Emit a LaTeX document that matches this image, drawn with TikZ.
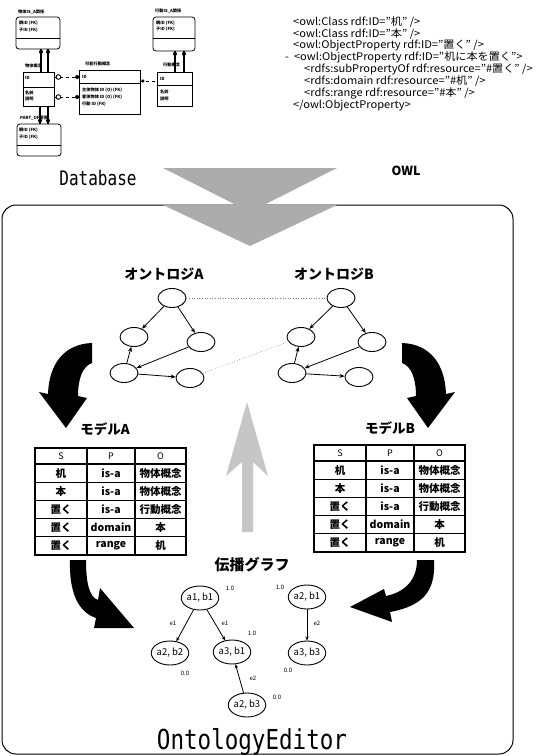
\documentclass[tikz,border=0pt]{standalone}
\usepackage{fontspec}
\setmainfont{Noto Sans CJK JP}
\newfontfamily\monofont{DejaVu Sans Mono}
\usetikzlibrary{arrows.meta,shapes.geometric,calc}

\newcommand\spotable[2]{%
\begin{scope}[shift={#2}]
 \foreach \yy in {16,34.2,52.4,70.6,88.8} \draw[line width=1.3pt] (0,\yy) -- (151,\yy);
 \foreach \xx in {52,100} \draw[line width=1.3pt] (\xx,0) -- (\xx,107);
 \draw[line width=2.2pt] (0,0) rectangle (151,107);
 \node[thd] (#1s) at (26,8) {S};
 \node[thd] (#1p) at (76,8) {P};
 \node[thd] (#1o) at (125.5,8) {O};
 \node[tcell] (#1a1) at (26,25.1) {机};
 \node[tcell] (#1b1) at (76,25.1) {is-a};
 \node[tcell] (#1c1) at (125.5,25.1) {物体概念};
 \node[tcell] (#1a2) at (26,43.3) {本};
 \node[tcell] (#1b2) at (76,43.3) {is-a};
 \node[tcell] (#1c2) at (125.5,43.3) {物体概念};
 \node[tcell] (#1a3) at (26,61.5) {置く};
 \node[tcell] (#1b3) at (76,61.5) {is-a};
 \node[tcell] (#1c3) at (125.5,61.5) {行動概念};
 \node[tcell] (#1a4) at (26,79.7) {置く};
 \node[tcell] (#1b4) at (76,79.7) {domain};
 \node[tcell] (#1c4) at (125.5,79.7) {本};
 \node[tcell] (#1a5) at (26,97.9) {置く};
 \node[tcell] (#1b5) at (76,97.9) {range};
 \node[tcell] (#1c5) at (125.5,97.9) {机};
\end{scope}}

\begin{document}
\begin{tikzpicture}[x=1pt,y=-1pt,
  dbrel/.style={draw,line width=0.8pt,rounded corners=3pt,inner sep=0pt},
  dbent/.style={draw,line width=0.8pt,inner sep=0pt},
  dbtxt/.style={font=\fontsize{4.2}{4.2}\selectfont\bfseries,inner sep=0pt,anchor=west},
  rel/.style={line width=1.3pt},
  owltxt/.style={font=\fontsize{10.5}{10.5}\selectfont,inner sep=0pt,anchor=west},
  onode/.style={draw,ellipse,line width=0.9pt,minimum width=28pt,minimum height=19pt,inner sep=0pt},
  oedge/.style={-{Stealth[length=5pt,width=4pt]},line width=0.8pt},
  dotline/.style={dotted,line width=0.6pt,gray},
  gnode/.style={draw,ellipse,line width=0.9pt,minimum width=36pt,minimum height=24pt,inner sep=0pt,font=\fontsize{9.5}{9.5}\selectfont},
  gedge/.style={-{Stealth[length=4pt,width=3.5pt]},line width=0.8pt},
  glab/.style={font=\fontsize{6}{6}\selectfont,inner sep=0pt},
  title/.style={font=\fontsize{14}{14}\selectfont\bfseries,inner sep=0pt},
  thd/.style={font=\fontsize{9}{9}\selectfont,inner sep=0pt},
  tcell/.style={font=\fontsize{10.5}{10.5}\selectfont\bfseries,inner sep=0pt},
]
\useasboundingbox (0,0) rectangle (549,756);

% ---------------- Database diagram ----------------
\node[dbrel,minimum width=44pt,minimum height=32pt] (b1) at (38,33) {};
\node[dbent,minimum width=31pt,minimum height=34pt] (b2) at (38.5,89) {};
\node[dbrel,minimum width=44pt,minimum height=32pt] (b3) at (39,140) {};
\node[dbent,minimum width=61pt,minimum height=44pt] (b4) at (109.5,92) {};
\node[dbent,minimum width=35pt,minimum height=34pt] (b5) at (174.5,89) {};
\node[dbrel,minimum width=42pt,minimum height=34pt] (b6) at (174,34) {};
\draw[line width=0.8pt] ($(b1.west)+(0,5)$) -- ($(b1.east)+(0,5)$);
\draw[line width=0.8pt] ($(b2.west)+(0,-2)$) -- ($(b2.east)+(0,-2)$);
\draw[line width=0.8pt] ($(b3.west)+(0,5)$) -- ($(b3.east)+(0,5)$);
\draw[line width=0.8pt] ($(b4.west)+(0,-9)$) -- ($(b4.east)+(0,-9)$);
\draw[line width=0.8pt] ($(b5.west)+(0,-4)$) -- ($(b5.east)+(0,-4)$);
\draw[line width=0.8pt] ($(b6.west)+(0,4)$) -- ($(b6.east)+(0,4)$);

\node[dbtxt] (t1) at (18,12) {物体IS\_A関係};
\node[dbtxt] (t1a) at (19,23) {親ID (FK)};
\node[dbtxt] (t1b) at (19,30) {子ID (FK)};
\node[dbtxt] (t2) at (25,66) {物体概念};
\node[dbtxt] (t2a) at (25,78) {ID};
\node[dbtxt] (t2b) at (25,93) {名前};
\node[dbtxt] (t2c) at (25,99) {説明};
\node[dbtxt] (t3) at (20,118) {PART\_OF関係};
\node[dbtxt] (t3a) at (19,130) {親ID (FK)};
\node[dbtxt] (t3b) at (19,137) {子ID (FK)};
\node[dbtxt] (t4) at (85,64) {可能行動概念};
\node[dbtxt] (t4a) at (82,77) {ID};
\node[dbtxt] (t4b) at (82,90) {主体物体 ID (O) (FK)};
\node[dbtxt] (t4c) at (82,97) {客体物体 ID (O) (FK)};
\node[dbtxt] (t4d) at (82,104) {行動 ID (FK)};
\node[dbtxt] (t5) at (163,65) {行動概念};
\node[dbtxt] (t5a) at (160,79) {ID};
\node[dbtxt] (t5b) at (160,92) {名前};
\node[dbtxt] (t5c) at (160,99) {説明};
\node[dbtxt] (t6) at (155,11) {行動IS\_A関係};
\node[dbtxt] (t6a) at (156,23) {親ID (FK)};
\node[dbtxt] (t6b) at (156,29) {子ID (FK)};

\draw[rel] ($(b1.south)+(3,0)$) -- ($(b2.north)+(2.5,0)$);
\draw[rel] ($(b1.south)+(10,0)$) -- ($(b2.north)+(9.5,0)$);
\fill ($(b1.south)+(3,2.5)$) circle[radius=2pt];
\fill ($(b1.south)+(10,2.5)$) circle[radius=2pt];
\draw[rel] ($(b2.south)+(1.5,0)$) -- ($(b3.north)+(1,0)$);
\draw[rel] ($(b2.south)+(9.5,0)$) -- ($(b3.north)+(9,0)$);
\fill ($(b3.north)+(1,-3)$) circle[radius=2pt];
\fill ($(b3.north)+(9,-3)$) circle[radius=2pt];
\draw[rel] ($(b6.south)+(1,0)$) -- ($(b5.north)+(0.5,0)$);
\draw[rel] ($(b6.south)+(10,0)$) -- ($(b5.north)+(9.5,0)$);
\fill ($(b6.south)+(1,2.5)$) circle[radius=2pt];
\fill ($(b6.south)+(10,2.5)$) circle[radius=2pt];
\draw[dashed,line width=0.9pt] ($(b2.east)+(0,-12)$) -- ($(b4.west)+(0,-15)$);
\draw[dashed,line width=0.9pt] ($(b2.east)+(0,8)$) -- ($(b4.west)+(0,5)$);
\draw[fill=white,line width=0.9pt] ($(b2.east)+(4,-12)$) circle[radius=2.3pt];
\draw[fill=white,line width=0.9pt] ($(b2.east)+(4,8)$) circle[radius=2.3pt];
\fill ($(b4.west)+(-1.5,-15)$) circle[radius=2pt];
\fill ($(b4.west)+(-1.5,5)$) circle[radius=2pt];
\draw[dashed,line width=0.9pt] ($(b4.east)+(0,-11)$) -- ($(b5.west)+(0,-8)$);
\fill ($(b4.east)+(2.5,-11)$) circle[radius=1.8pt];

% ---------------- OWL text ----------------
\node[owltxt] (w1) at (293,22) {\scalebox{1.06}[1]{<owl:Class rdf:ID="机" />}};
\node[owltxt] (w2) at (293,33.9) {\scalebox{1.06}[1]{<owl:Class rdf:ID="本" />}};
\node[owltxt] (w3) at (293,45.8) {\scalebox{1.06}[1]{<owl:ObjectProperty rdf:ID="置く" />}};
\node[owltxt] (w4) at (285,57.7) {\scalebox{1.06}[1]{-\ \ <owl:ObjectProperty rdf:ID="机に本を置く">}};
\node[owltxt] (w5) at (304,69.6) {\scalebox{1.06}[1]{<rdfs:subPropertyOf rdf:resource="\#置く" />}};
\node[owltxt] (w6) at (304,81.5) {\scalebox{1.06}[1]{<rdfs:domain rdf:resource="\#机" />}};
\node[owltxt] (w7) at (304,93.4) {\scalebox{1.06}[1]{<rdfs:range rdf:resource="\#本" />}};
\node[owltxt] (w8) at (293,105.3) {\scalebox{1.06}[1]{</owl:ObjectProperty>}};

\node[inner sep=0pt] (dblab) at (98,178) {\monofont\fontsize{20}{20}\selectfont\scalebox{0.8}[1]{Database}};
\node[inner sep=0pt,font=\fontsize{12.5}{12.5}\selectfont\bfseries] (owllab) at (406,171) {OWL};

% ---------------- main frame and big arrow ----------------
\draw[line width=1pt,rounded corners=14pt] (2,205) rectangle (513,754);
\fill[gray!65] (163,168) -- (337,168) -- (250,212) -- cycle;
\fill[gray!65] (163,205) -- (337,205) -- (250,246) -- cycle;

% ---------------- ontologies ----------------
\node[title] (ola) at (164,274) {オントロジA};
\node[title] (olb) at (334,274) {オントロジB};
\node[onode] (na1) at (172,298) {};
\node[onode] (na2) at (134,337) {};
\node[onode] (na3) at (201,342) {};
\node[onode] (na4) at (124,373) {};
\node[onode] (na5) at (190,378) {};
\node[onode] (nb1) at (341,298) {};
\node[onode] (nb2) at (301,337) {};
\node[onode] (nb3) at (372,342) {};
\node[onode] (nb4) at (292,373) {};
\node[onode] (nb5) at (359,377) {};
\foreach \p in {a,b} {
  \draw[oedge] (n\p1) -- (n\p2);
  \draw[oedge] (n\p1) -- (n\p3);
  \draw[oedge] (n\p3) -- (n\p4);
  \draw[oedge] (n\p4) -- (n\p2);
  \draw[oedge] (n\p4) -- (n\p5);
}
\draw[dotline] (na1) -- (nb1);
\draw[dotline] (na5) -- (nb2);

% curved arrows (top)
\fill (92,343) .. controls (64,344) and (49,364) .. (48,394) -- (39,392) -- (66,428) -- (87,398) -- (78,396) .. controls (78,378) and (83,366) .. (92,363) -- cycle;
\begin{scope}[xshift=494,xscale=-1]
\fill (92,343) .. controls (64,344) and (49,364) .. (48,394) -- (39,392) -- (66,428) -- (87,398) -- (78,396) .. controls (78,378) and (83,366) .. (92,363) -- cycle;
\end{scope}

% central dotted up arrow
\fill[gray!45] (247,402) -- (268,476) -- (253,462) -- (253,532) -- (242,532) -- (242,462) -- (226,476) -- cycle;

% ---------------- models ----------------
\node[font=\fontsize{13.5}{13.5}\selectfont\bfseries,inner sep=0pt] (mla) at (105,429) {モデルA};
\node[font=\fontsize{13.5}{13.5}\selectfont\bfseries,inner sep=0pt] (mlb) at (390,428) {モデルB};
\spotable{ta}{(35,448)}
\spotable{tb}{(314,445)}

% curved arrows (bottom)
\fill (70,560) .. controls (69,592) and (78,612) .. (96,618) -- (94,628) -- (134,628) -- (100,588) -- (98,600) .. controls (89,597) and (86,582) .. (86,560) -- cycle;
\fill (434,560) .. controls (436,592) and (422,606) .. (390,612) -- (392,622) -- (350,607) -- (384,589) -- (386,596) .. controls (405,592) and (417,580) .. (417,560) -- cycle;

% ---------------- propagation graph ----------------
\node[font=\fontsize{15}{15}\selectfont\bfseries,inner sep=0pt] (pg) at (252,565) {伝播グラフ};
\node[gnode] (g11) at (200,598) {a1, b1};
\node[gnode] (g21) at (307,597) {a2, b1};
\node[gnode] (g22) at (170,653) {a2, b2};
\node[gnode] (g31) at (232,652) {a3, b1};
\node[gnode] (g33) at (307,653) {a3, b3};
\node[gnode] (g23) at (247,705) {a2, b3};
\draw[gedge] (g11) -- (g22);
\draw[gedge] (g11) -- (g31);
\draw[gedge] (g21) -- (g33);
\draw[gedge] (g23) -- (g31);
\node[glab] (e1a) at (173,623) {e1};
\node[glab] (e1b) at (225,623) {e1};
\node[glab] (e2a) at (317,623) {e2};
\node[glab] (e2b) at (253,678) {e2};
\node[glab] (v11) at (230,588) {1.0};
\node[glab] (v21) at (280,587) {1.0};
\node[glab] (v31) at (252,633) {1.0};
\node[glab] (v22) at (185,673) {0.0};
\node[glab] (v33) at (288,670) {0.0};
\node[glab] (v23) at (277,697) {0.0};

\node[inner sep=0pt] (oe) at (252,742) {\monofont\fontsize{27.5}{27.5}\selectfont\scalebox{0.82}[1]{OntologyEditor}};
\end{tikzpicture}
\end{document}
